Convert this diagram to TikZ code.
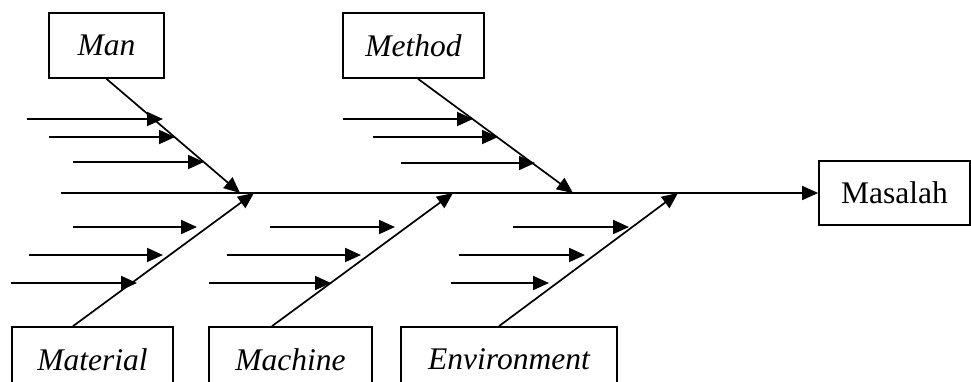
\documentclass[tikz,border=0pt]{standalone}
\usepackage{fontspec}
\setmainfont{Liberation Serif}
\usetikzlibrary{arrows.meta}
\begin{document}
\begin{tikzpicture}[x=1pt,y=-1pt,
  box/.style={draw,line width=1.7pt,inner sep=0pt,minimum height=65pt,
    font=\fontsize{31.5}{36}\selectfont\itshape},
  effect/.style={box,font=\fontsize{31.5}{36}\selectfont},
  bone/.style={line width=1.7pt,-{Triangle[length=16pt,width=14pt]}},
  cause/.style={line width=1.9pt,-{Triangle[length=16pt,width=14pt]}}]
\useasboundingbox (0,0) rectangle (971,381);

% category boxes
\node[box,minimum width=115pt] (man) at (106.5,45.5) {Man};
\node[box,minimum width=141pt] (method) at (413.5,45.5) {Method};
\node[box,minimum width=161pt] (material) at (92.5,359.5) {Material};
\node[box,minimum width=163pt] (machine) at (290.5,359.5) {Machine};
\node[box,minimum width=216pt] (env) at (509,359.5) {Environment};
\node[effect,minimum width=151pt,minimum height=64pt] (masalah) at (894.5,193) {Masalah};

% spine
\coordinate (tail) at (61,193);
\draw[bone] (tail) -- (masalah.west);

% bone heads on the spine
\coordinate (hman) at (240,193);
\coordinate (hmethod) at (573,193);
\coordinate (hmaterial) at (254,193);
\coordinate (hmachine) at (453,193);
\coordinate (henv) at (678,193);

\draw[bone] (man.south) -- (hman);
\draw[bone] ([xshift=4.5pt]method.south) -- (hmethod);
\draw[bone] ([xshift=-19.5pt]material.north) -- (hmaterial);
\draw[bone] ([xshift=-18.5pt]machine.north) -- (hmachine);
\draw[bone] ([xshift=-10pt]env.north) -- (henv);

% sub-causes
\foreach \n/\xa/\xb/\y in {
  a1/27/163/119, a2/49/175/137, a3/73/204/162,
  b1/343/473/119, b2/373/498/137, b3/401/535/163,
  c1/73/197/227, c2/29/163/255, c3/11/137/283,
  d1/270/395/227, d2/227/361/255, d3/209/331/283,
  e1/513/629/227, e2/459/585/255, e3/451/549/283}{
  \coordinate (s\n) at (\xa,\y);
  \coordinate (t\n) at (\xb,\y);
  \draw[cause] (s\n) -- (t\n);
}
\end{tikzpicture}
\end{document}
